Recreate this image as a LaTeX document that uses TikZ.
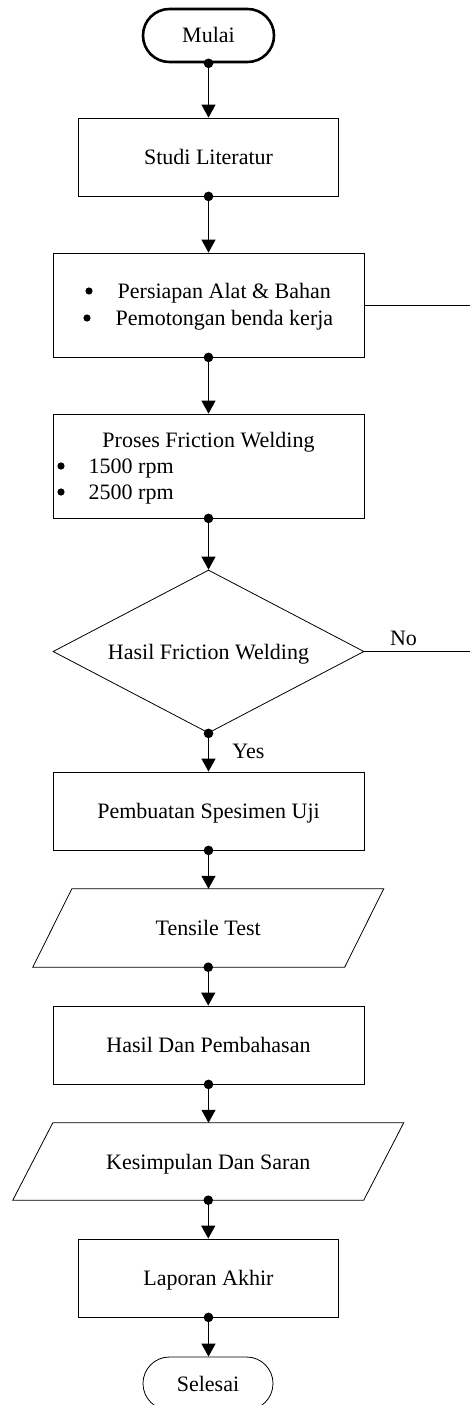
\documentclass[tikz,border=0pt]{standalone}
\usepackage{fontspec}
\setmainfont{Liberation Serif}
\usetikzlibrary{shapes.geometric,arrows.meta}
\begin{document}
\begin{tikzpicture}[x=1pt,y=-1pt,
  every node/.style={font=\fontsize{22}{27}\selectfont},
  box/.style={draw, line width=0.8pt, rectangle, inner sep=0pt, text height=15pt, text depth=0pt},
  term/.style={draw, rounded corners=26.4pt, inner sep=0pt, minimum height=53pt, text height=15pt, text depth=0pt},
  para/.style={inner sep=0pt, text height=15pt, text depth=0pt},
  item/.style={anchor=base west, inner sep=0pt},
  thin/.style={line width=0.8pt},
  flow/.style={line width=1.2pt, -{Triangle[width=14pt,length=13pt]}}
]
\clip (0,0) rectangle (470,1405);

\node[term, line width=2.6pt, minimum width=131pt] (start) at (208.5,35.5) {Mulai};
\node[box, minimum width=260pt, minimum height=78pt] (lit) at (208.5,157) {Studi Literatur};

\node[box, minimum width=311pt, minimum height=104pt] (prep) at (208.5,305) {};
\node[item] (prep1) at (117.5,298) {Persiapan Alat \& Bahan};
\node[item] (prep2) at (115.5,325) {Pemotongan benda kerja};
\fill ([xshift=-28.5pt,yshift=7pt]prep1.base west) circle (3.6pt);
\fill ([xshift=-28.5pt,yshift=7pt]prep2.base west) circle (3.6pt);

\node[box, minimum width=311pt, minimum height=104pt] (fw) at (208.5,466) {};
\node[anchor=base] (fwt) at (208.5,447) {Proses Friction Welding};
\node[item] (fw1) at (88.5,473) {1500 rpm};
\node[item] (fw2) at (88.5,499) {2500 rpm};
\fill ([xshift=-27.5pt,yshift=7pt]fw1.base west) circle (3.6pt);
\fill ([xshift=-27.5pt,yshift=7pt]fw2.base west) circle (3.6pt);

\node[draw, thin, diamond, aspect=1.9, minimum width=311pt, minimum height=163pt, inner sep=0pt, text height=15pt, text depth=0pt] (dec) at (208.5,651.5) {Hasil Friction Welding};

\node[box, minimum width=311pt, minimum height=78pt] (spec) at (208.5,811) {Pembuatan Spesimen Uji};

\node[para, minimum width=311.5pt, minimum height=78pt] (tens) at (208.25,928) {Tensile Test};
\draw[thin] ([xshift=19.5pt]tens.north west) -- ([xshift=19.5pt]tens.north east)
  -- ([xshift=-19.5pt]tens.south east) -- ([xshift=-19.5pt]tens.south west) -- cycle;

\node[box, minimum width=311pt, minimum height=78pt] (hasil) at (208.5,1045) {Hasil Dan Pembahasan};

\node[para, minimum width=350.5pt, minimum height=77pt] (kes) at (208.25,1161.5) {Kesimpulan Dan Saran};
\draw[thin] ([xshift=20pt]kes.north west) -- ([xshift=20pt]kes.north east)
  -- ([xshift=-20pt]kes.south east) -- ([xshift=-20pt]kes.south west) -- cycle;

\node[box, minimum width=260pt, minimum height=78pt] (lap) at (208.5,1278) {Laporan Akhir};
\node[term, thin, minimum width=130pt] (end) at (208,1383.5) {Selesai};

\foreach \a/\b in {start/lit, lit/prep, prep/fw, fw/dec, dec/spec, spec/tens, tens/hasil, hasil/kes, kes/lap, lap/end} {
  \draw[flow] (\a.south) -- (\a.south |- \b.north);
  \fill (\a.south) circle (4.8pt);
}

\coordinate (r1) at (470,305);
\draw[thin] (prep.east) -- (prep.east -| r1);
\coordinate (r2) at (470,651.5);
\draw[thin] (dec.east) -- (dec.east -| r2);
\node[anchor=base] (no) at (403.5,645) {No};
\node[anchor=base] (yes) at (248.5,758) {Yes};
\end{tikzpicture}
\end{document}
